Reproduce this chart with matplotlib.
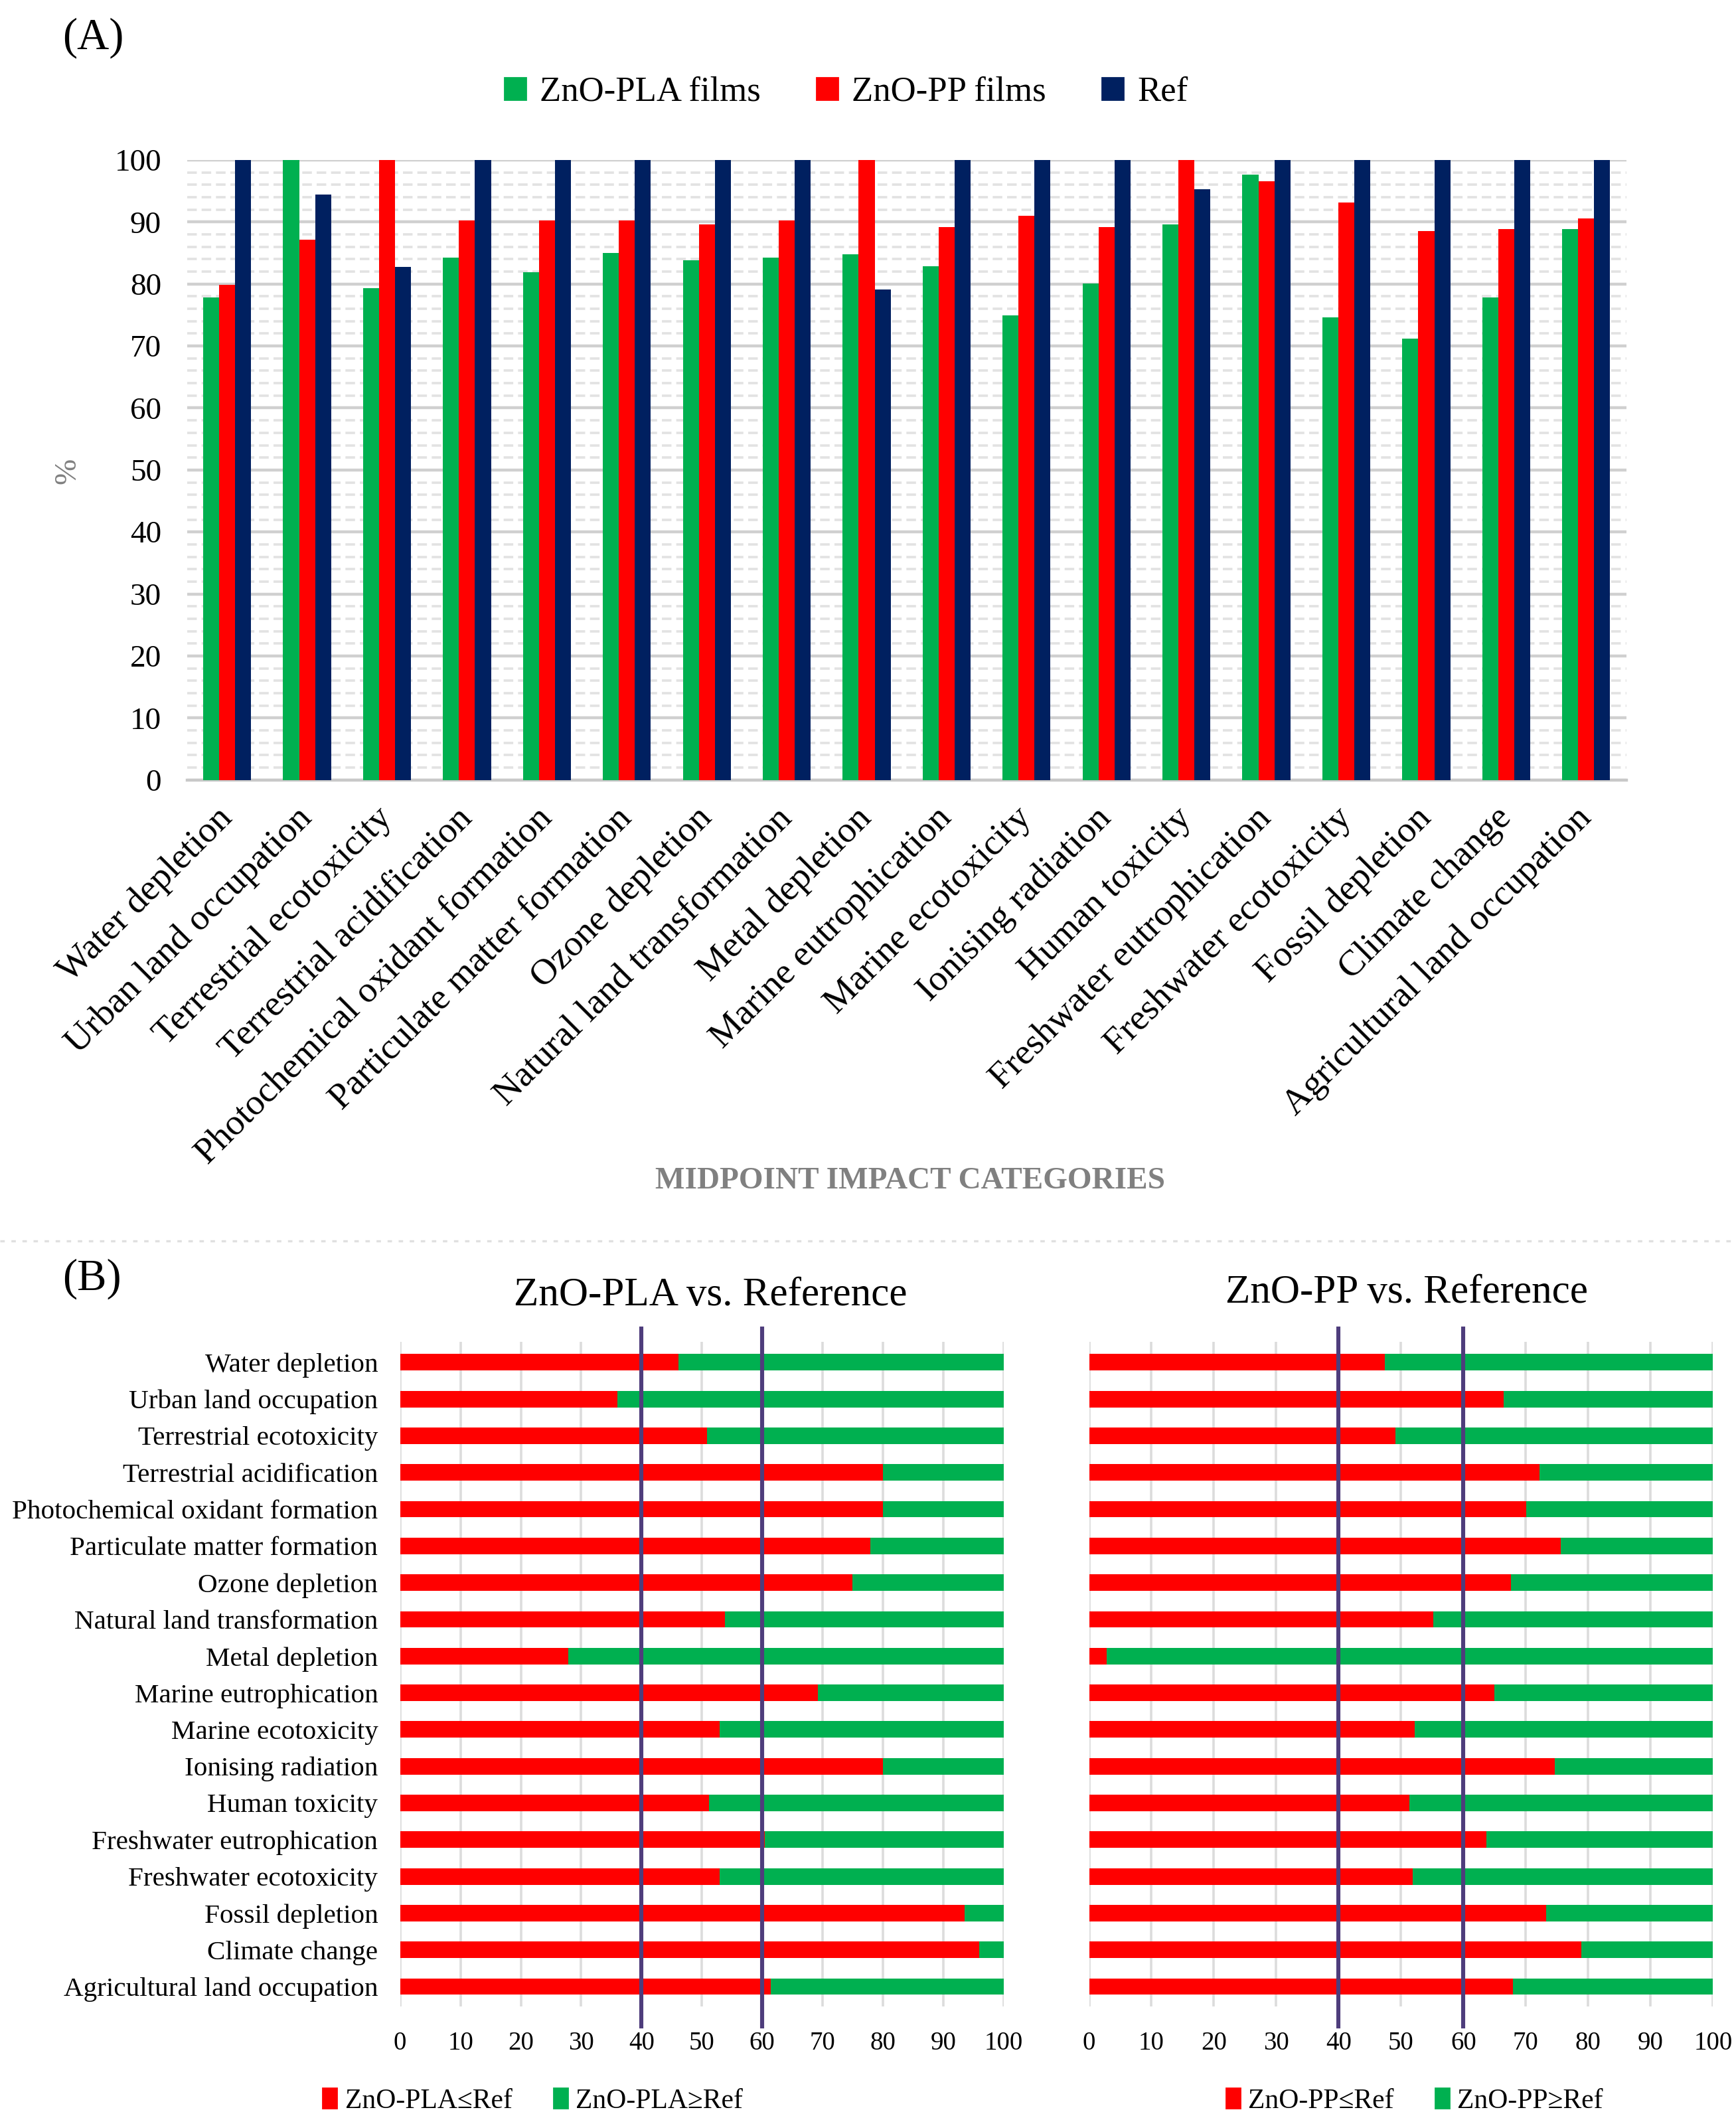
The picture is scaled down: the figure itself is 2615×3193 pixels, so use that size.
import numpy as np
import matplotlib
matplotlib.use("Agg")
import matplotlib.pyplot as plt
from matplotlib.patches import Patch
from matplotlib.lines import Line2D

plt.rcParams['font.family'] = ['Liberation Serif', 'DejaVu Serif']

# categories (same order in both panels)
categories = ["Water depletion", "Urban land occupation", "Terrestrial ecotoxicity",
              "Terrestrial acidification", "Photochemical oxidant formation",
              "Particulate matter formation", "Ozone depletion",
              "Natural land transformation", "Metal depletion", "Marine eutrophication",
              "Marine ecotoxicity", "Ionising radiation", "Human toxicity",
              "Freshwater eutrophication", "Freshwater ecotoxicity", "Fossil depletion",
              "Climate change", "Agricultural land occupation"]

# panel A (%)
pla_films = [77.8, 100, 79.3, 84.3, 81.9, 85.0, 83.8, 84.3, 84.8,
             82.9, 74.9, 80.1, 89.6, 97.6, 74.6, 71.2, 77.8, 88.9]
pp_films = [79.9, 87.2, 100, 90.3, 90.3, 90.3, 89.6, 90.3, 100,
            89.2, 91.0, 89.2, 100, 96.6, 93.1, 88.5, 88.9, 90.6]
ref = [100, 94.4, 82.8, 100, 100, 100, 100, 100, 79.1,
       100, 100, 100, 95.3, 100, 100, 100, 100, 100]

# panel B (%)
pla_le = [46.1, 36.0, 50.9, 80.0, 80.0, 77.9, 74.9, 53.8, 27.9,
          69.2, 52.9, 80.0, 51.2, 60.4, 52.9, 93.5, 95.9, 61.4]
pla_ge = [53.9, 64.0, 49.1, 20.0, 20.0, 22.1, 25.1, 46.2, 72.1,
          30.8, 47.1, 20.0, 48.8, 39.6, 47.1, 6.5, 4.1, 38.6]
pp_le = [47.4, 66.5, 49.1, 72.2, 70.1, 75.6, 67.6, 55.2, 2.8,
         65.0, 52.2, 74.6, 51.3, 63.7, 51.9, 73.3, 78.9, 67.9]
pp_ge = [52.6, 33.5, 50.9, 27.8, 29.9, 24.4, 32.4, 44.8, 97.2,
         35.0, 47.8, 25.4, 48.7, 36.3, 48.1, 26.7, 21.1, 32.1]

GREEN = '#00B050'
RED = '#FF0000'
NAVY = '#002060'
PURPLE = '#4E3D7C'

W, H = 1280.0, 1563.0


def fx(x):
    return x / W


def fy(y):
    return 1 - y / H


fig = plt.figure(figsize=(13.075, 15.965), dpi=200)

# ---------- panel A ----------
axA = fig.add_axes([fx(138), fy(575), (1199 - 138) / W, (575 - 118) / H])
x = np.arange(len(categories))
axA.bar(x - 0.2, pla_films, 0.2, color=GREEN, zorder=3)
axA.bar(x, pp_films, 0.2, color=RED, zorder=3)
axA.bar(x + 0.2, ref, 0.2, color=NAVY, zorder=3)
axA.set_xlim(-0.5, len(categories) - 0.5)
axA.set_ylim(0, 100)
axA.set_yticks(np.arange(0, 101, 10))
axA.set_yticks(np.arange(0, 101, 2), minor=True)
axA.grid(which='major', axis='y', color='#D0D0D0', lw=1.6, zorder=0)
axA.grid(which='minor', axis='y', color='#E2E2E2', lw=1.3, ls=(0, (4, 2)), zorder=0)
for s in ['top', 'right', 'left']:
    axA.spines[s].set_visible(False)
axA.spines['bottom'].set_color('#C8C8C8')
axA.spines['bottom'].set_linewidth(1.6)
axA.tick_params(which='both', length=0)
axA.tick_params(axis='y', labelsize=17, pad=14)
axA.set_xticks(x, categories, rotation=45, ha='right', va='center',
               rotation_mode='anchor', fontsize=19.8)
axA.tick_params(axis='x', pad=18)

fig.text(fx(50), fy(347), '%', rotation=90, color='#808080', fontsize=17,
         ha='center', va='center')
fig.text(fx(671), fy(871), 'MIDPOINT IMPACT CATEGORIES', color='#808080',
         fontsize=17, fontweight='bold', ha='center', va='center')
fig.text(fx(46), fy(28), '(A)', fontsize=24, ha='left', va='center')

legA = [Patch(color=GREEN, label='ZnO-PLA films'),
        Patch(color=RED, label='ZnO-PP films'),
        Patch(color=NAVY, label='Ref')]
fig.legend(handles=legA, loc='center', bbox_to_anchor=(fx(624), fy(68)), ncol=3,
           frameon=False, fontsize=19, handlelength=0.6, handleheight=0.6,
           handletextpad=0.4, columnspacing=1.6)

# separator
fig.add_artist(Line2D([0.0, 1.0], [fy(915), fy(915)], color='#E0E0E0', lw=1.2,
                      ls=(0, (2, 3)), transform=fig.transFigure))

fig.text(fx(46), fy(943), '(B)', fontsize=24, ha='left', va='center')

# ---------- panel B ----------
top_b, bot_b = 989.5, 1479.5
y = np.arange(len(categories))


def stacked(ax, le, ge, left, right, labels):
    ax.set_position([fx(left), fy(bot_b), (right - left) / W, (bot_b - top_b) / H])
    ax.barh(y, le, height=0.45, color=RED, zorder=3)
    ax.barh(y, ge, height=0.45, left=le, color=GREEN, zorder=3)
    ax.set_xlim(0, 100)
    ax.set_ylim(len(categories) - 0.45, -0.55)
    ax.set_xticks(np.arange(0, 101, 10))
    ax.grid(axis='x', color='#DCDCDC', lw=1.3, zorder=0)
    for s in ax.spines.values():
        s.set_visible(False)
    ax.tick_params(length=0)
    ax.tick_params(axis='x', labelsize=14, pad=13)
    if labels:
        ax.set_yticks(y, categories, fontsize=14.8)
        ax.tick_params(axis='y', pad=12)
    else:
        ax.set_yticks([])
    for v in (40, 60):
        ax.axvline(v, ymin=-0.03, ymax=1.02, color=PURPLE, lw=2.2, zorder=4,
                   clip_on=False)


axL = fig.add_axes([0, 0, 1, 1])
stacked(axL, pla_le, pla_ge, 295, 740, True)
axR = fig.add_axes([0, 0, 1, 1])
stacked(axR, pp_le, pp_ge, 803, 1263, False)

fig.text(fx(524), fy(955), 'ZnO-PLA vs. Reference', fontsize=22, ha='center', va='center')
fig.text(fx(1037), fy(953), 'ZnO-PP vs. Reference', fontsize=22, ha='center', va='center')

fig.legend(handles=[Patch(color=RED, label='ZnO-PLA≤Ref'), Patch(color=GREEN, label='ZnO-PLA≥Ref')],
           loc='center', bbox_to_anchor=(fx(393), fy(1549)), ncol=2, frameon=False,
           fontsize=15, handlelength=0.5, handleheight=0.7, handletextpad=0.3,
           columnspacing=1.5)
fig.legend(handles=[Patch(color=RED, label='ZnO-PP≤Ref'), Patch(color=GREEN, label='ZnO-PP≥Ref')],
           loc='center', bbox_to_anchor=(fx(1043), fy(1549)), ncol=2, frameon=False,
           fontsize=15, handlelength=0.5, handleheight=0.7, handletextpad=0.3,
           columnspacing=1.5)

fig.savefig('out.png', dpi=200, facecolor='white')
